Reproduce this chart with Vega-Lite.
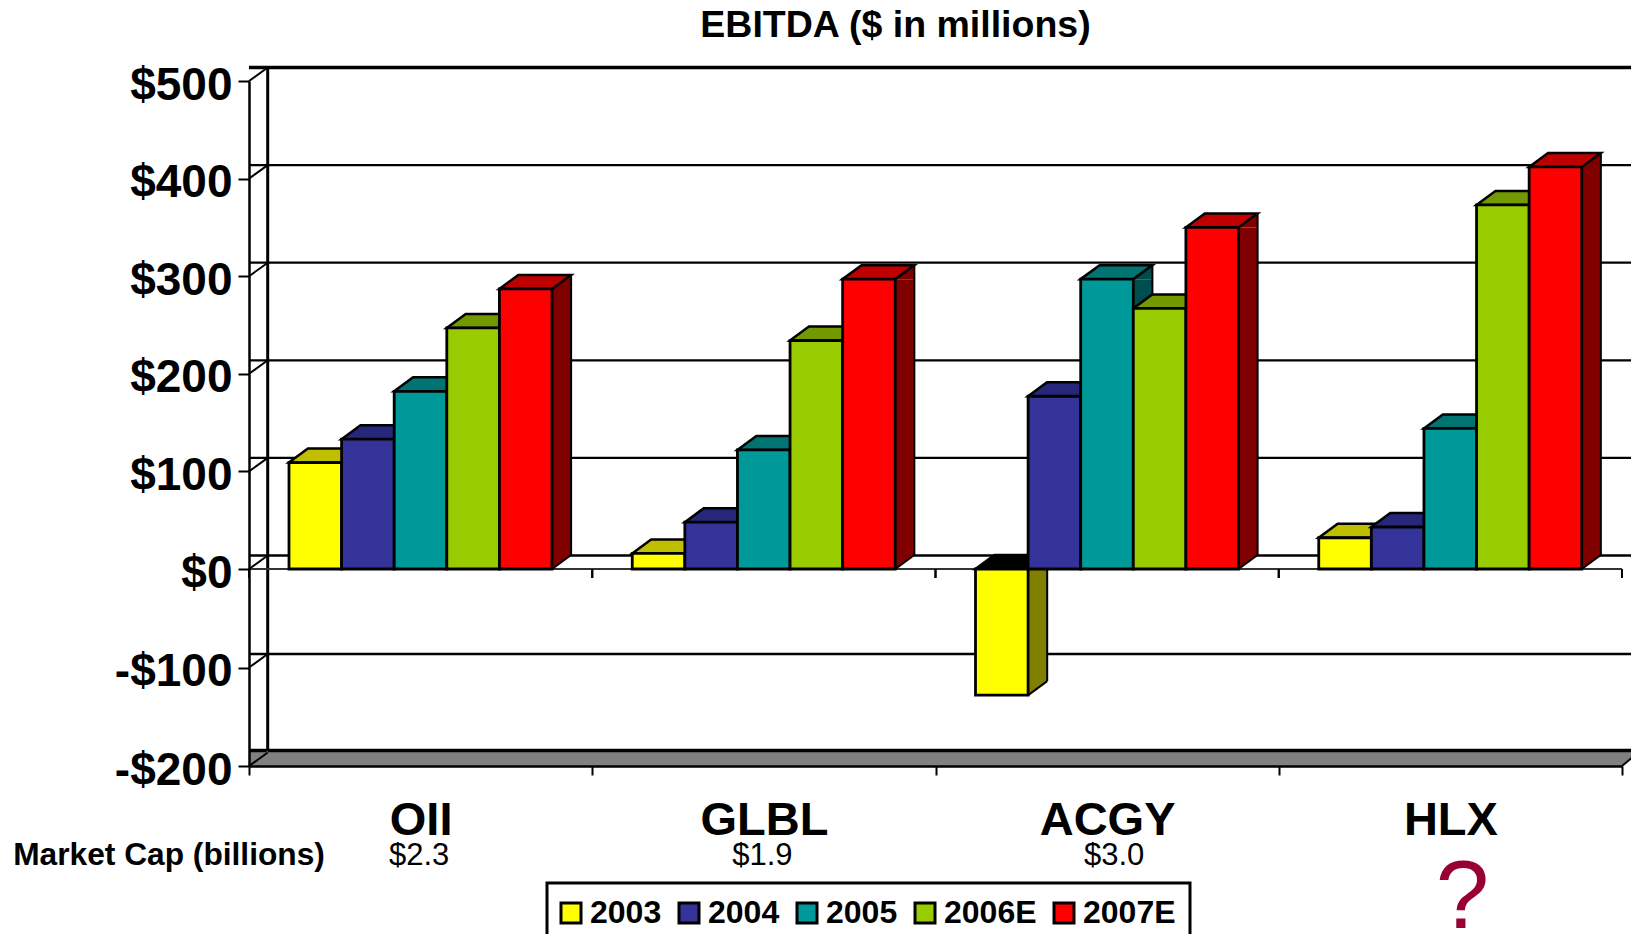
{
"$schema":"https://vega.github.io/schema/vega-lite/v6.json",
"width":1373,"height":685,
"autosize":"none",
"padding":{"left":249,"top":81,"right":9,"bottom":168},
"background":"white",
"title":{"text":"EBITDA ($ in millions)","font":"Liberation Sans","fontSize":37.5,"fontWeight":"bold","color":"#000000","anchor":"middle","frame":"group","dx":-40,"offset":-12,"baseline":"alphabetic"},
"datasets":{
"bars":[
{"ticker":"OII","year":"2003","value":109,"high":109,"low":0},
{"ticker":"OII","year":"2004","value":133,"high":133,"low":0},
{"ticker":"OII","year":"2005","value":182,"high":182,"low":0},
{"ticker":"OII","year":"2006E","value":247,"high":247,"low":0},
{"ticker":"OII","year":"2007E","value":287,"high":287,"low":0},
{"ticker":"GLBL","year":"2003","value":16,"high":16,"low":0},
{"ticker":"GLBL","year":"2004","value":48,"high":48,"low":0},
{"ticker":"GLBL","year":"2005","value":122,"high":122,"low":0},
{"ticker":"GLBL","year":"2006E","value":234,"high":234,"low":0},
{"ticker":"GLBL","year":"2007E","value":297,"high":297,"low":0},
{"ticker":"ACGY","year":"2003","value":-128,"high":0,"low":-128},
{"ticker":"ACGY","year":"2004","value":177,"high":177,"low":0},
{"ticker":"ACGY","year":"2005","value":297,"high":297,"low":0},
{"ticker":"ACGY","year":"2006E","value":267,"high":267,"low":0},
{"ticker":"ACGY","year":"2007E","value":350,"high":350,"low":0},
{"ticker":"HLX","year":"2003","value":32,"high":32,"low":0},
{"ticker":"HLX","year":"2004","value":43,"high":43,"low":0},
{"ticker":"HLX","year":"2005","value":144,"high":144,"low":0},
{"ticker":"HLX","year":"2006E","value":373,"high":373,"low":0},
{"ticker":"HLX","year":"2007E","value":412,"high":412,"low":0}
],
"grid":[{"v":500},{"v":400},{"v":300},{"v":200},{"v":100},{"v":0},{"v":-100},{"v":-200}],
"tickers":[{"ticker":"OII"},{"ticker":"GLBL"},{"ticker":"ACGY"},{"ticker":"HLX"}]
},
"encoding":{
"x":{"field":"ticker","type":"nominal","sort":["OII","GLBL","ACGY","HLX"],"scale":{"domain":["OII","GLBL","ACGY","HLX"],"padding":0},"axis":{"title":null,"labelAngle":0,"labelFont":"Liberation Sans","labelFontSize":47,"labelFontWeight":"bold","labelColor":"#000000","labelBaseline":"alphabetic","tickBand":"extent","tickSize":9,"tickWidth":2,"tickColor":"#000000","domainColor":"#000000","domainWidth":2.5,"labelPadding":59,"zindex":1,"grid":false}}
},
"layer":[
{"data":{"name":"grid"},"mark":{"type":"rule","xOffset":18.7,"yOffset":-13.5,"color":"#000000","strokeWidth":2.3},"transform":[{"filter":"datum.v>-200"}],"encoding":{"x":null,"y":{"field":"v","type":"quantitative","scale":{"domain":[-200,0,500],"range":[685,488,0]},"axis":{"title":null,"values":[-200,-100,0,100,200,300,400,500],"labelExpr":"datum.value<0 ? '-$'+abs(datum.value) : '$'+datum.value","labelFont":"Liberation Sans","labelFontSize":46,"labelFontWeight":"bold","labelColor":"#000000","labelOffset":4,"tickSize":11,"tickWidth":2,"tickColor":"#000000","domainColor":"#000000","domainWidth":2.5,"labelPadding":6,"grid":false,"zindex":1}}}},
{"data":{"name":"grid"},"mark":{"type":"rule","xOffset":18.7,"yOffset":-13.5,"color":"#000000","strokeWidth":3.5},"transform":[{"filter":"datum.v==500"}],"encoding":{"x":null,"y":{"field":"v","type":"quantitative"}}},
{"data":{"name":"grid"},"mark":{"type":"rule","xOffset":18.7,"yOffset":-7.5,"color":"#808080","strokeWidth":15},"transform":[{"filter":"datum.v==-200"}],"encoding":{"x":null,"y":{"field":"v","type":"quantitative"}}},
{"data":{"name":"grid"},"mark":{"type":"rule","xOffset":18.7,"yOffset":-15.5,"color":"#000000","strokeWidth":3.5},"transform":[{"filter":"datum.v==-200"}],"encoding":{"x":null,"y":{"field":"v","type":"quantitative"}}},
{"data":{"name":"grid"},"mark":{"type":"point","shape":"M-171.6,0L-152.9,-15.5V0Z","filled":true,"size":4,"color":"#808080","strokeWidth":0,"opacity":1},"transform":[{"filter":"datum.v==-200"},{"calculate":"'OII'","as":"ticker"}],"encoding":{"y":{"field":"v","type":"quantitative"}}},
{"data":{"name":"grid"},"mark":{"type":"point","shape":"M171.6,0L190.3,-15.5V1H171.6Z","filled":true,"size":4,"color":"#ffffff","strokeWidth":0,"opacity":1},"transform":[{"filter":"datum.v==-200"},{"calculate":"'HLX'","as":"ticker"}],"encoding":{"y":{"field":"v","type":"quantitative"}}},
{"data":{"name":"grid"},"mark":{"type":"point","shape":"M171.6,0L190.3,-15.5","filled":false,"size":4,"stroke":"#000000","strokeWidth":2,"opacity":1},"transform":[{"filter":"datum.v==-200"},{"calculate":"'HLX'","as":"ticker"}],"encoding":{"y":{"field":"v","type":"quantitative"}}},
{"data":{"name":"grid"},"mark":{"type":"point","shape":"M-171.6,0L-152.9,-13.5","filled":false,"size":4,"stroke":"#000000","strokeWidth":2,"opacity":1},"transform":[{"calculate":"'OII'","as":"ticker"}],"encoding":{"y":{"field":"v","type":"quantitative"}}},
{"data":{"name":"tickers"},"mark":{"type":"rule","yOffset":-13.5,"y2Offset":-15.5,"xOffset":18.7,"color":"#000000","strokeWidth":3},"transform":[{"filter":"datum.ticker=='OII'"}],"encoding":{"x":{"field":"ticker","type":"nominal","bandPosition":0},"y":{"datum":500,"type":"quantitative"},"y2":{"datum":-200}}},
{"data":{"name":"grid"},"mark":{"type":"rule","color":"#333333","strokeWidth":2},"transform":[{"filter":"datum.v==0"}],"encoding":{"x":null,"y":{"field":"v","type":"quantitative"}}},
{"data":{"name":"tickers"},"mark":{"type":"point","shape":"M-171.6,0V9M171.6,0V9","filled":false,"size":4,"stroke":"#000000","strokeWidth":2,"opacity":1},"encoding":{"y":{"datum":0,"type":"quantitative"}}},
{"data":{"name":"bars"},"mark":{"type":"bar","size":19,"y2Offset":-14,"strokeWidth":0},"encoding":{"xOffset":{"field":"year","scale":{"type":"band","domain":["2003","2004","2005","2006E","2007E"],"range":[76,339],"paddingOuter":0,"paddingInner":0}},"y":{"field":"high","type":"quantitative"},"y2":{"field":"low"},"fill":{"field":"year","legend":null,"scale":{"domain":["2003","2004","2005","2006E","2007E"],"range":["#808000","#1a1a4d","#004d4d","#4d6600","#800000"]}}}},
{"data":{"name":"bars"},"mark":{"type":"point","shape":"M26.4,0L45.4,-14V0Z","filled":true,"size":4,"strokeWidth":0,"opacity":1},"encoding":{"xOffset":{"field":"year","scale":{"type":"band","domain":["2003","2004","2005","2006E","2007E"],"range":[40,303],"paddingOuter":0,"paddingInner":0}},"y":{"field":"high","type":"quantitative"},"fill":{"field":"year","legend":null,"scale":{"domain":["2003","2004","2005","2006E","2007E"],"range":["#808000","#1a1a4d","#004d4d","#4d6600","#800000"]}}}},
{"data":{"name":"bars"},"mark":{"type":"point","shape":"M26.4,0L45.4,-14H26.4Z","filled":true,"size":4,"strokeWidth":0,"opacity":1},"encoding":{"xOffset":{"field":"year","scale":{"type":"band","domain":["2003","2004","2005","2006E","2007E"],"range":[40,303],"paddingOuter":0,"paddingInner":0}},"y":{"field":"low","type":"quantitative"},"fill":{"field":"year","legend":null,"scale":{"domain":["2003","2004","2005","2006E","2007E"],"range":["#808000","#1a1a4d","#004d4d","#4d6600","#800000"]}}}},
{"data":{"name":"bars"},"mark":{"type":"point","shape":"M26.4,0L45.4,-14","filled":false,"size":4,"stroke":"#000000","strokeWidth":2,"opacity":1},"encoding":{"xOffset":{"field":"year","scale":{"type":"band","domain":["2003","2004","2005","2006E","2007E"],"range":[40,303],"paddingOuter":0,"paddingInner":0}},"y":{"field":"low","type":"quantitative"}}},
{"data":{"name":"bars"},"mark":{"type":"rule","yOffset":-14,"y2Offset":-14,"color":"#000000","strokeWidth":2},"encoding":{"xOffset":{"field":"year","scale":{"type":"band","domain":["2003","2004","2005","2006E","2007E"],"range":[85.4,348.4],"paddingOuter":0,"paddingInner":0}},"y":{"field":"high","type":"quantitative"},"y2":{"field":"low"}}},
{"data":{"name":"bars"},"mark":{"type":"point","shape":"M-26.4,0L-7.4,-14H45.4L26.4,0Z","filled":true,"size":4,"stroke":"#000000","strokeWidth":2.5,"opacity":1},"encoding":{"xOffset":{"field":"year","scale":{"type":"band","domain":["2003","2004","2005","2006E","2007E"],"range":[40,303],"paddingOuter":0,"paddingInner":0}},"y":{"field":"high","type":"quantitative"},"fill":{"condition":{"test":"datum.value<0","value":"#000000"},"field":"year","legend":null,"scale":{"domain":["2003","2004","2005","2006E","2007E"],"range":["#bfbf00","#26267a","#007373","#739900","#bf0000"]}}}},
{"data":{"name":"bars"},"mark":{"type":"bar","stroke":"#000000","strokeWidth":2.8},"encoding":{"xOffset":{"field":"year","scale":{"type":"band","domain":["2003","2004","2005","2006E","2007E"],"range":[40,303],"paddingOuter":0,"paddingInner":0}},"y":{"field":"high","type":"quantitative"},"y2":{"field":"low"},"fill":{"field":"year","scale":{"domain":["2003","2004","2005","2006E","2007E"],"range":["#ffff00","#333399","#009999","#99cc00","#ff0000"]},"legend":{"orient":"none","legendX":298,"legendY":802,"direction":"horizontal","columns":5,"title":null,"strokeColor":"#000000","fillColor":"#ffffff","padding":14,"symbolType":"square","symbolSize":400,"symbolStrokeWidth":3,"symbolStrokeColor":"#000000","symbolOffset":-6,"symbolOpacity":1,"labelFont":"Liberation Sans","labelFontSize":32,"labelFontWeight":"bold","labelColor":"#000000","labelOffset":3,"columnPadding":11,"rowPadding":20,"encode":{"legend":{"update":{"strokeWidth":{"value":3}}}}}}}},
{"data":{"values":[{"ticker":"OII","cap":"$2.3"},{"ticker":"GLBL","cap":"$1.9"}]},"mark":{"type":"text","font":"Liberation Sans","fontSize":31,"color":"#000000","baseline":"alphabetic","xOffset":-1.5,"yOffset":99},"encoding":{"y":{"datum":-200,"type":"quantitative"},"text":{"field":"cap"}}},
{"data":{"values":[{"ticker":"ACGY","cap":"$3.0"}]},"mark":{"type":"text","font":"Liberation Sans","fontSize":31,"color":"#000000","baseline":"alphabetic","xOffset":7,"yOffset":99},"encoding":{"y":{"datum":-200,"type":"quantitative"},"text":{"field":"cap"}}},
{"data":{"values":[{"ticker":"HLX","cap":"?"}]},"mark":{"type":"text","font":"Liberation Sans","fontSize":96,"color":"#990033","baseline":"alphabetic","xOffset":12,"yOffset":162},"encoding":{"y":{"datum":-200,"type":"quantitative"},"text":{"field":"cap"}}},
{"data":{"values":[{"ticker":"OII","label":"Market Cap (billions)"}]},"mark":{"type":"text","font":"Liberation Sans","fontSize":31.7,"fontWeight":"bold","color":"#000000","baseline":"alphabetic","xOffset":-251.6,"yOffset":99},"encoding":{"y":{"datum":-200,"type":"quantitative"},"text":{"field":"label"}}}
],
"resolve":{"scale":{"fill":"independent","xOffset":"independent"}},
"config":{"view":{"stroke":null}}
}
